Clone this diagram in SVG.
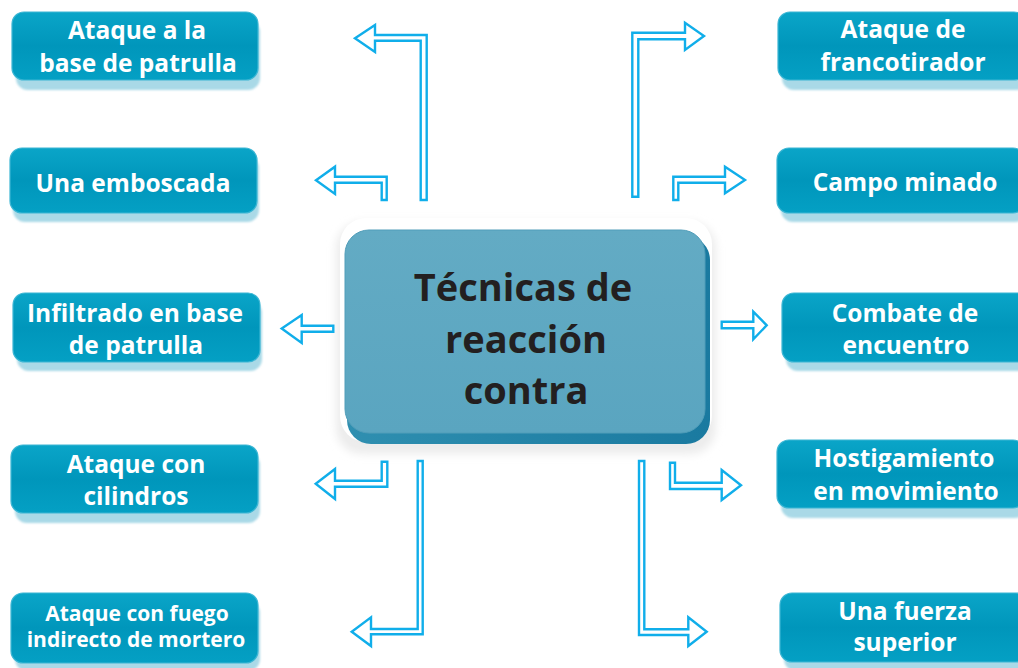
<svg xmlns="http://www.w3.org/2000/svg" width="1018" height="668" viewBox="0 0 1018 668">
<defs>
<linearGradient id="nodeGrad" x1="0" y1="0" x2="0" y2="1">
<stop offset="0" stop-color="#0aa5c8"/>
<stop offset="0.5" stop-color="#0096bb"/>
<stop offset="1" stop-color="#04a0c4"/>
</linearGradient>
<linearGradient id="centerGrad" x1="0" y1="0" x2="0" y2="1">
<stop offset="0" stop-color="#63abc4"/>
<stop offset="1" stop-color="#5aa5c0"/>
</linearGradient>
<linearGradient id="centerEdge" x1="0" y1="0" x2="1" y2="0">
<stop offset="0" stop-color="#2f8fb0"/>
<stop offset="1" stop-color="#1a7aa0"/>
</linearGradient>
<filter id="soft" x="-10%" y="-10%" width="120%" height="130%">
<feGaussianBlur stdDeviation="1.2"/>
</filter>
<filter id="blur4" x="-20%" y="-20%" width="140%" height="140%">
<feGaussianBlur stdDeviation="4"/>
</filter>
</defs>
<style>
.shadow{fill:#a9d9e7;filter:url(#soft)}
.box{fill:url(#nodeGrad);stroke:#3cb6d4;stroke-width:1.2}
.lbl{font-family:"Open Sans","Liberation Sans",sans-serif;font-weight:bold;font-size:24.5px;fill:#ffffff;text-anchor:middle}
.small{font-size:21px}
.arrow{fill:#ffffff;stroke:#10aeea;stroke-width:2.4;stroke-linejoin:miter}
.ctext{font-family:"Open Sans","Liberation Sans",sans-serif;font-weight:bold;font-size:38px;fill:#231f20;text-anchor:middle}
</style>
<rect width="1018" height="668" fill="#ffffff"/>

<!-- center node -->
<g id="center">
<rect x="336" y="222" width="380" height="232" rx="26" fill="#ececec" filter="url(#blur4)"/>
<rect x="340" y="218" width="372" height="224" rx="26" fill="#ffffff"/>
<rect x="347" y="236" width="363" height="208" rx="24" fill="url(#centerEdge)"/>
<rect x="345" y="230" width="360" height="203" rx="24" fill="url(#centerGrad)" stroke="#509db9" stroke-width="1"/>
<text class="ctext" x="523" y="301">Técnicas de</text>
<text class="ctext" x="526" y="353">reacción</text>
<text class="ctext" x="526" y="404">contra</text>
</g>

<!-- connectors -->
<g id="connectors">
<path class="arrow" d="M420.7,200 L420.7,40.7 L375,40.7 L375,52 L355,38.3 L375,25 L375,35 L426.7,35 L426.7,200 Z"/>
<path class="arrow" d="M381.7,200 L381.7,182.7 L335,182.7 L335,194 L316,180.3 L335,166.7 L335,176.7 L386.7,176.7 L386.7,200 Z"/>
<path class="arrow" d="M333.3,325.7 L301.7,325.7 L301.7,315 L281.7,328.5 L301.7,343 L301.7,331.7 L333.3,331.7 Z"/>
<path class="arrow" d="M381.7,461.7 L381.7,480.7 L335,480.7 L335,469 L315.7,483.8 L335,499 L335,486.7 L387.3,486.7 L387.3,461.7 Z"/>
<path class="arrow" d="M417.7,461 L417.7,629 L371,629 L371,617.3 L351.7,631.7 L371,646 L371,634.3 L422.7,634.3 L422.7,461 Z"/>
<path class="arrow" d="M632.3,196.7 L632.3,32.7 L685,32.7 L685,22.7 L704,36 L685,50 L685,39.3 L638.3,39.3 L638.3,196.7 Z"/>
<path class="arrow" d="M673.3,200 L673.3,176.7 L725,176.7 L725,166.7 L745,180 L725,193.3 L725,182.7 L678.3,182.7 L678.3,200 Z"/>
<path class="arrow" d="M721.7,321.7 L753.3,321.7 L753.3,311.7 L766.7,325.3 L753.3,339.3 L753.3,328.3 L721.7,328.3 Z"/>
<path class="arrow" d="M670,462.7 L670,489 L721.7,489 L721.7,500 L741,485.3 L721.7,470 L721.7,482.7 L675,482.7 L675,462.7 Z"/>
<path class="arrow" d="M639,461 L639,635 L688.3,635 L688.3,646 L706.7,631.7 L688.3,617.3 L688.3,629.3 L644.3,629.3 L644.3,461 Z"/>
</g>

<!-- left nodes -->
<g id="n-ataque-base">
<rect class="shadow" x="16" y="20" width="244" height="70" rx="12"/>
<rect class="box" x="12" y="12" width="246" height="68" rx="12"/>
<text class="lbl" x="137" y="39">Ataque a la</text>
<text class="lbl" x="138" y="72">base de patrulla</text>
</g>
<g id="n-emboscada">
<rect class="shadow" x="13" y="156" width="246" height="66" rx="12"/>
<rect class="box" x="10" y="148" width="247" height="65" rx="12"/>
<text class="lbl" x="133" y="192">Una emboscada</text>
</g>
<g id="n-infiltrado">
<rect class="shadow" x="17" y="301" width="245" height="70" rx="12"/>
<rect class="box" x="13" y="293" width="247" height="69" rx="12"/>
<text class="lbl" x="135" y="322">Infiltrado en base</text>
<text class="lbl" x="136" y="354">de patrulla</text>
</g>
<g id="n-cilindros">
<rect class="shadow" x="15" y="453" width="245" height="70" rx="12"/>
<rect class="box" x="11" y="445" width="247" height="68" rx="12"/>
<text class="lbl" x="136" y="473">Ataque con</text>
<text class="lbl" x="136" y="505">cilindros</text>
</g>
<g id="n-mortero">
<rect class="shadow" x="15" y="601" width="245" height="70" rx="12"/>
<rect class="box" x="11" y="593" width="247" height="70" rx="12"/>
<text class="lbl small" x="137" y="621">Ataque con fuego</text>
<text class="lbl small" x="136" y="647">indirecto de mortero</text>
</g>

<!-- right nodes -->
<g id="n-francotirador">
<rect class="shadow" x="782" y="20" width="246" height="70" rx="12"/>
<rect class="box" x="778" y="12" width="248" height="68" rx="12"/>
<text class="lbl" x="903" y="38">Ataque de</text>
<text class="lbl" x="903" y="71">francotirador</text>
</g>
<g id="n-campo">
<rect class="shadow" x="781" y="156" width="246" height="66" rx="12"/>
<rect class="box" x="777" y="148" width="248" height="65" rx="12"/>
<text class="lbl" x="905" y="191">Campo minado</text>
</g>
<g id="n-combate">
<rect class="shadow" x="786" y="301" width="246" height="70" rx="12"/>
<rect class="box" x="782" y="293" width="248" height="69" rx="12"/>
<text class="lbl" x="905" y="322">Combate de</text>
<text class="lbl" x="906" y="354">encuentro</text>
</g>
<g id="n-hostigamiento">
<rect class="shadow" x="781" y="448" width="246" height="70" rx="12"/>
<rect class="box" x="777" y="440" width="248" height="68" rx="12"/>
<text class="lbl" x="904" y="467">Hostigamiento</text>
<text class="lbl" x="906" y="500">en movimiento</text>
</g>
<g id="n-fuerza">
<rect class="shadow" x="784" y="601" width="246" height="70" rx="12"/>
<rect class="box" x="780" y="593" width="248" height="69" rx="12"/>
<text class="lbl" x="905" y="620">Una fuerza</text>
<text class="lbl" x="905" y="651">superior</text>
</g>
</svg>
